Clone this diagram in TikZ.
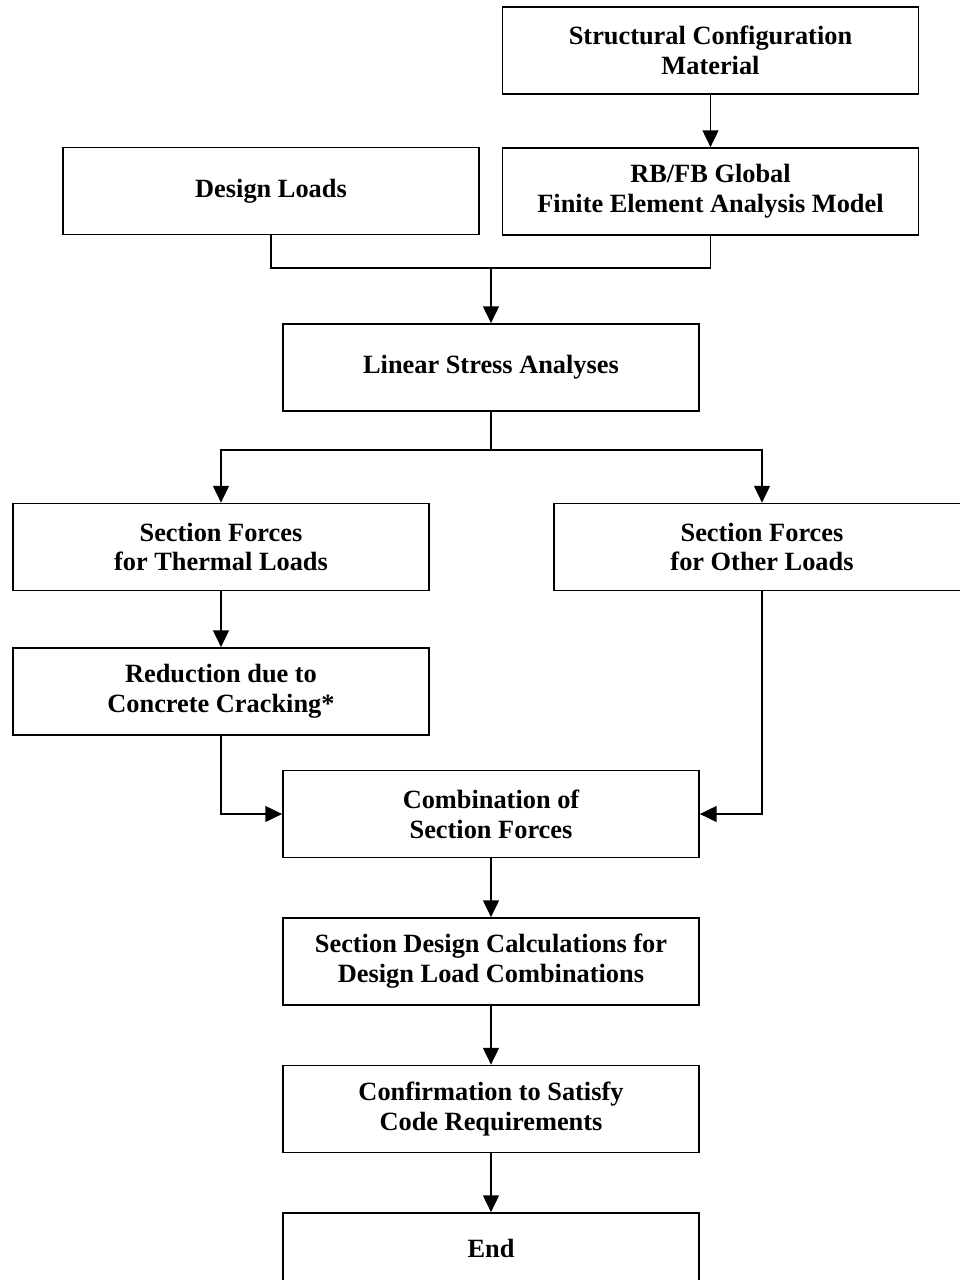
\documentclass[tikz,border=0pt]{standalone}
\usepackage{fontspec}
\setmainfont{Liberation Serif}
\usepackage{tikz}
\usetikzlibrary{
  calc,
  arrows.meta,
  positioning
}

\begin{document}
\begin{tikzpicture}[
            node distance=2.95cm,
            font=\fontsize{15}{17}\selectfont\bfseries,
            process/.style={rectangle, minimum width=8.32cm, minimum height=1.74cm, inner sep=0pt, align=center, draw=black, line width=1pt, fill=white},
            line/.style={line width=0.9pt},
            arrow/.style={line width=0.9pt, -{Triangle[length=9.5pt, width=9pt]}}
        ]

        \clip (-9.82,7.35) rectangle (9.38,-18.25);

        % Nodes
        \node (linear) [process] {Linear Stress Analyses};
        \node (rbfb) [process, above of=linear, xshift=4.39cm, yshift=0.57cm] {RB/FB Global\\Finite Element Analysis Model};
        \node (struct) [process, above of=rbfb, yshift=-0.13cm] {Structural Configuration\\Material};
        \node (loads) [process, above of=linear, xshift=-4.40cm, yshift=0.58cm] {Design Loads};

        % Two branches
        \node (thermal) [process, below of=linear, xshift=-5.40cm, yshift=-0.64cm] {Section Forces\\for Thermal Loads};
        \node (other) [process, below of=linear, xshift=5.42cm, yshift=-0.64cm] {Section Forces\\for Other Loads};
        \node (reduction) [process, below of=thermal, yshift=0.06cm] {Reduction due to\\Concrete Cracking*};

        % Main column
        \node (combine) [process, below of=linear, yshift=-5.98cm] {Combination of\\Section Forces};
        \node (secdesign) [process, below of=combine] {Section Design Calculations for\\Design Load Combinations};
        \node (confirm) [process, below of=secdesign] {Confirmation to Satisfy\\Code Requirements};
        \node (end) [process, below of=confirm, yshift=0.16cm, minimum height=1.42cm] {End};

        \coordinate (merge) at ($(linear.north)+(0,1.1cm)$);
        \coordinate (split) at ($(linear.south)+(0,-0.76cm)$);

        % Connectors
        \draw [arrow] (struct) -- (rbfb);
        \draw [line] (loads.south) |- (merge);
        \draw [line] (rbfb.south) |- (merge);
        \draw [arrow] (merge) -- (linear);

        \draw [line] (linear) -- (split);
        \draw [arrow] (split) -| (thermal);
        \draw [arrow] (split) -| (other);

        \draw [arrow] (thermal) -- (reduction);
        \draw [arrow] (reduction) |- (combine);
        \draw [arrow] (other) |- (combine);

        \draw [arrow] (combine) -- (secdesign);
        \draw [arrow] (secdesign) -- (confirm);
        \draw [arrow] (confirm) -- (end);

    \end{tikzpicture}
\end{document}
